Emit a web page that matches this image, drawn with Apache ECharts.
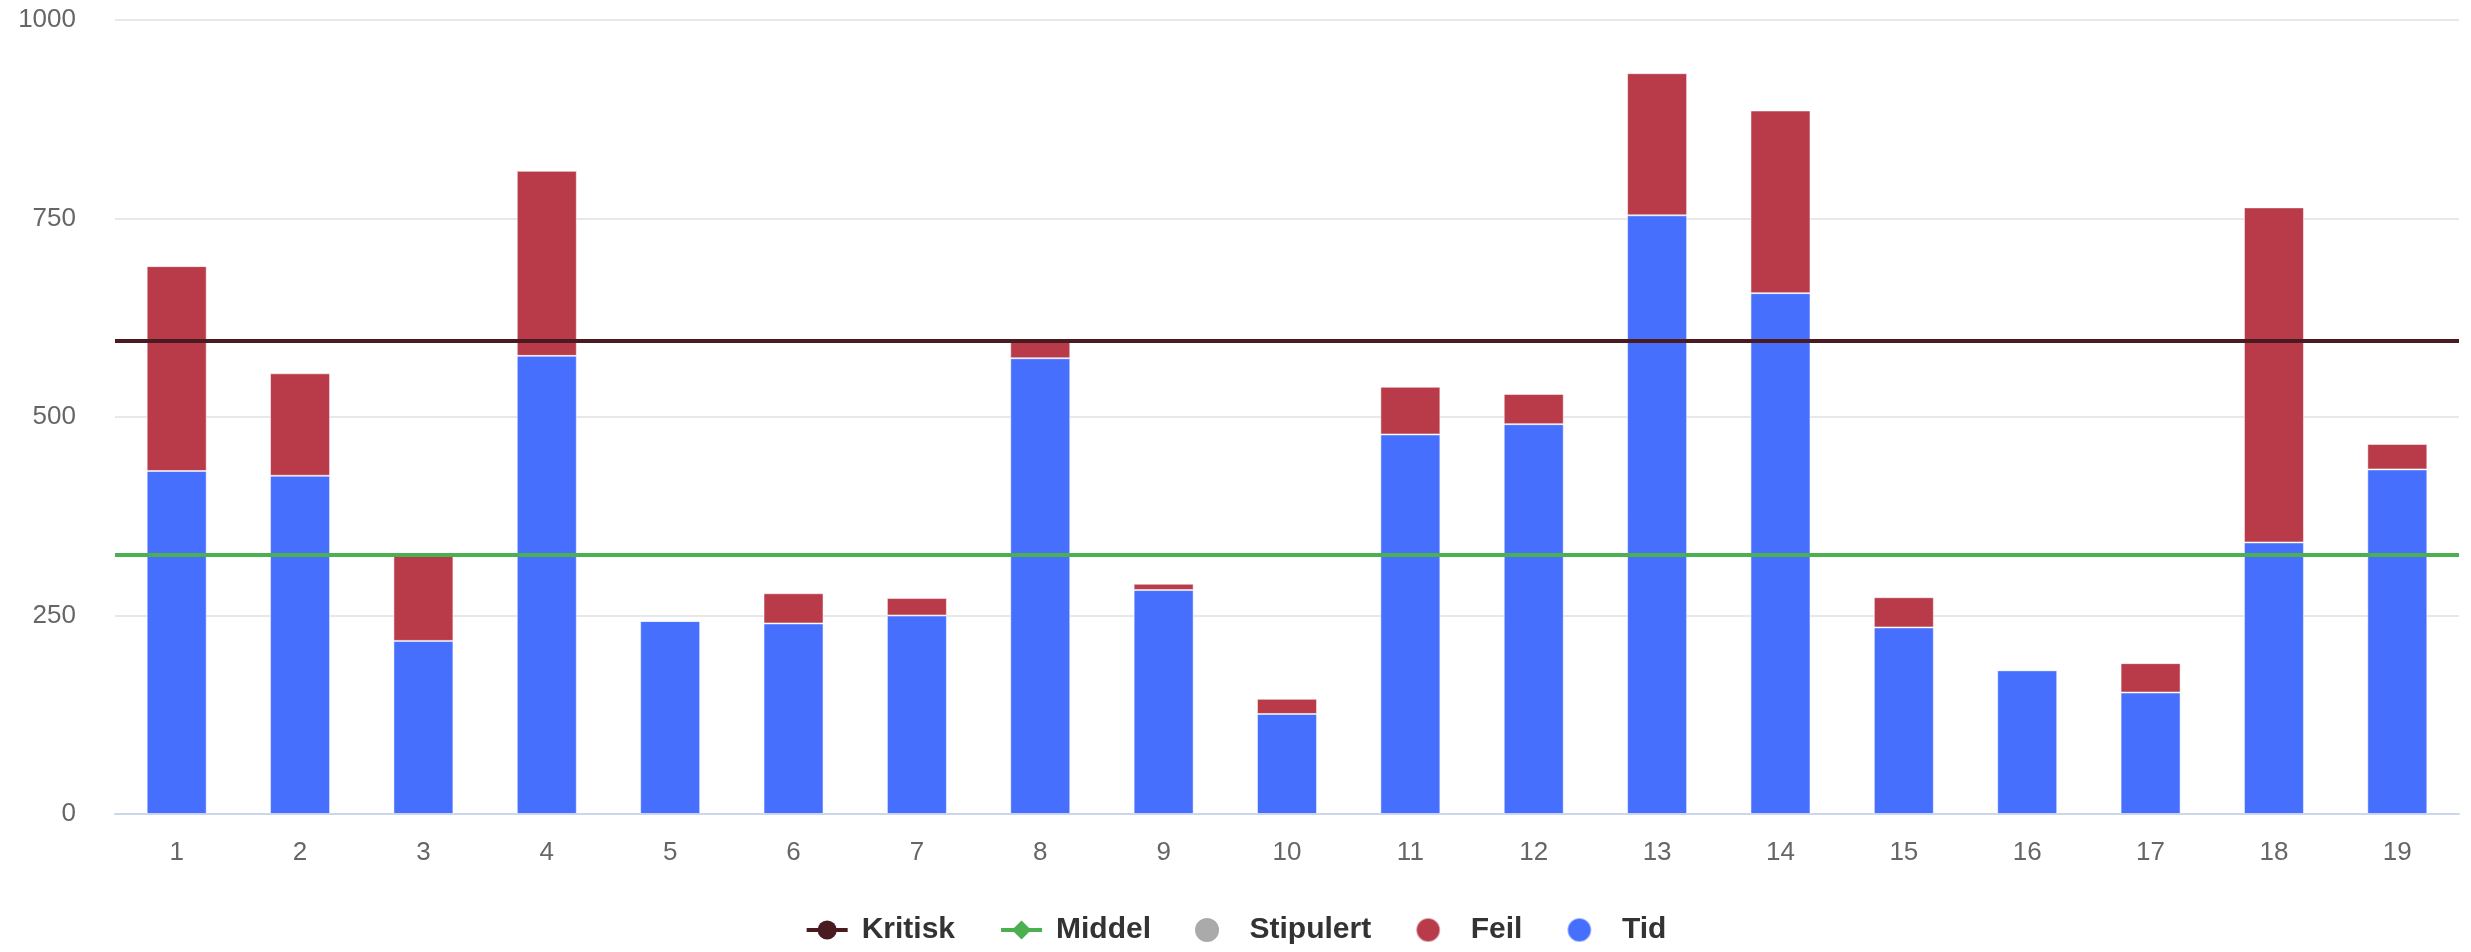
<!DOCTYPE html>
<html>
<head>
<title>Tid og feil</title>
<meta charset="UTF-8">
<script src="https://cdn.jsdelivr.net/npm/echarts@6/dist/echarts.min.js"></script>
<style>
html, body { margin: 0; padding: 0; background: #fff; }
#chart-container { width: 2471px; height: 952px; }
</style>
</head>
<body>
<div id="chart-container"></div>

<script>
// data
var categories = ['1','2','3','4','5','6','7','8','9','10','11','12','13','14','15','16','17','18','19'];
var tid = [432, 426, 218, 577, 243, 240, 250, 574, 282, 126, 478, 491, 754, 656, 235, 181, 153, 342, 434];
var feil = [258, 129, 107, 233, 0, 38, 22, 23, 8, 19, 60, 38, 179, 230, 38, 0, 37, 422, 32];
var stipulert = [];
var kritisk = 596;
var middel = 326;
var yTicks = [0, 250, 500, 750, 1000];

var myChart = echarts.init(document.getElementById('chart-container'));

var labelFont = '"Liberation Sans", Arial, sans-serif';

// Kritisk / Middel: horizontal reference lines across the whole plot
function refLine(name, value, color, symbol) {
  return {
    name: name,
    type: 'line',
    data: [],
    symbol: symbol,
    symbolSize: 18,
    itemStyle: { color: color },
    lineStyle: { color: color, width: 4 },
    markLine: {
      silent: true,
      symbol: 'none',
      label: { show: false },
      lineStyle: { color: color, width: 4, type: 'solid' },
      emphasis: { disabled: true },
      data: [{ yAxis: value }]
    }
  };
}

var lineText = { padding: [0, 0, 0, 9] };
var dotText = { padding: [0, 0, 0, 17] };

var option = {
  animation: false,
  textStyle: { fontFamily: labelFont },
  grid: { left: 115, right: 12, top: 20, bottom: 138 },
  legend: {
    bottom: 2,
    left: 'center',
    itemGap: 44,
    itemWidth: 41,
    itemHeight: 24,
    textStyle: { fontSize: 30, fontWeight: 'bold', color: '#333333', fontFamily: labelFont },
    data: [
      { name: 'Kritisk', textStyle: lineText, lineStyle: { width: 4 } },
      { name: 'Middel', textStyle: lineText, lineStyle: { width: 4 } },
      { name: 'Stipulert', icon: 'circle', textStyle: dotText },
      { name: 'Feil', icon: 'circle', textStyle: dotText },
      { name: 'Tid', icon: 'circle', textStyle: dotText }
    ]
  },
  xAxis: {
    type: 'category',
    data: categories,
    axisLine: { lineStyle: { color: '#ccd6eb', width: 2 } },
    axisTick: { show: false },
    axisLabel: { color: '#666666', fontSize: 26, margin: 26 }
  },
  yAxis: {
    type: 'value',
    min: yTicks[0],
    max: yTicks[yTicks.length - 1],
    interval: 250,
    axisLine: { show: false },
    axisTick: { show: false },
    axisLabel: {
      color: '#666666',
      fontSize: 26,
      margin: 39,
      formatter: function (v) { return String(v); }
    },
    splitLine: { lineStyle: { color: '#e8e8e8', width: 2 } }
  },
  series: [
    refLine('Kritisk', kritisk, '#4a1a21', 'circle'),
    refLine('Middel', middel, '#4caf50', 'diamond'),
    {
      name: 'Stipulert',
      type: 'bar',
      stack: 'total',
      data: stipulert,
      itemStyle: { color: '#aaaaaa' }
    },
    {
      name: 'Tid',
      type: 'bar',
      stack: 'total',
      barWidth: 60,
      data: tid,
      itemStyle: { color: '#476ffe', borderColor: 'rgba(255,255,255,0.5)', borderWidth: 1 }
    },
    {
      name: 'Feil',
      type: 'bar',
      stack: 'total',
      barWidth: 60,
      data: feil,
      itemStyle: { color: '#b93a49', borderColor: 'rgba(255,255,255,0.5)', borderWidth: 1 }
    }
  ]
};

myChart.setOption(option);
</script>
</body>
</html>
